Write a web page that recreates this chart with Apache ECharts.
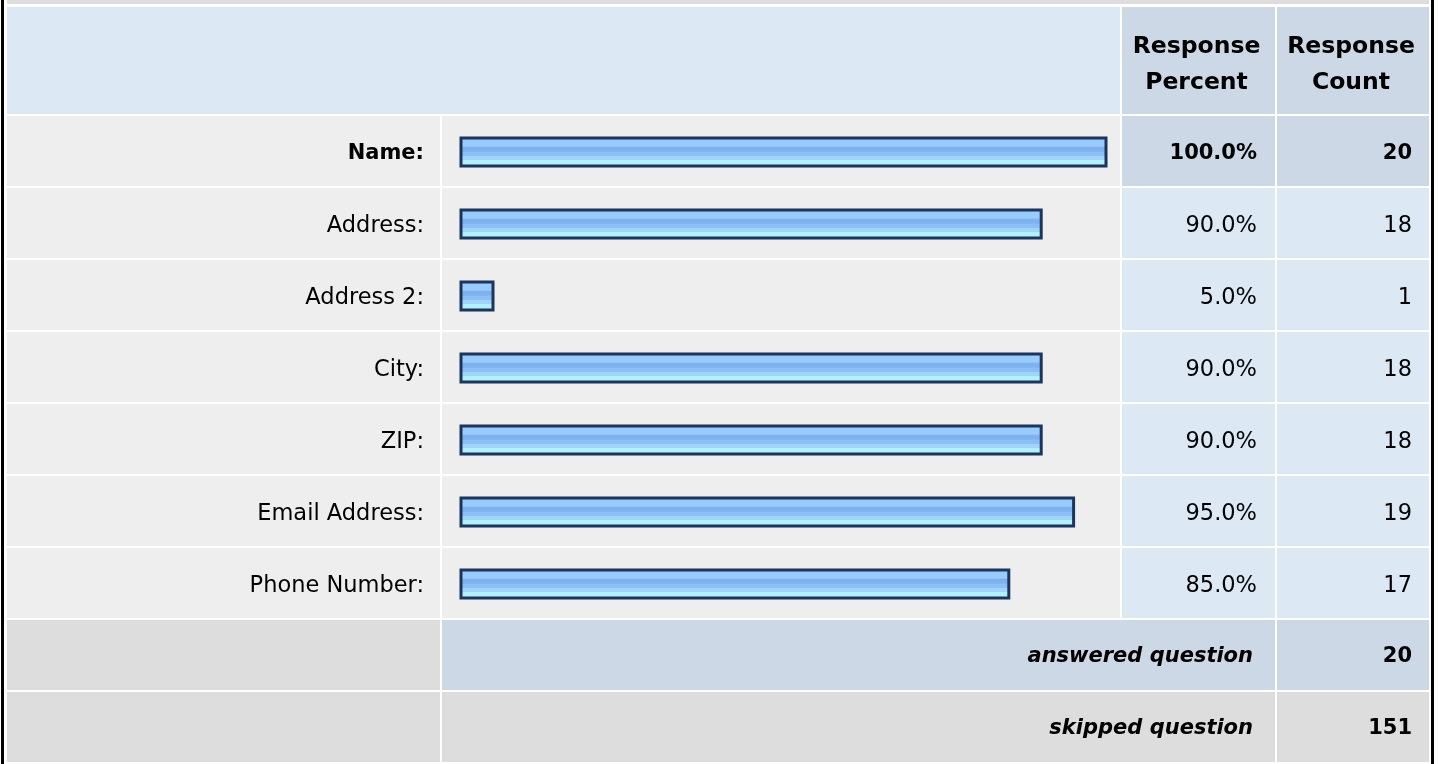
<!DOCTYPE html>
<html>
<head>
<meta charset="utf-8">
<script src="https://cdn.jsdelivr.net/npm/echarts@6/dist/echarts.min.js"></script>
<style>
  html, body { margin: 0; padding: 0; background: #ffffff; }
  #chart { width: 1438px; height: 764px; }
</style>
</head>
<body>
<div id="chart"></div>
<script>
// Survey answers: share and number of respondents per field
const categories = ['Name:', 'Address:', 'Address 2:', 'City:', 'ZIP:', 'Email Address:', 'Phone Number:'];
const responsePercent = [100.0, 90.0, 5.0, 90.0, 90.0, 95.0, 85.0];
const responseCount = [20, 18, 1, 18, 18, 19, 17];
const headerLabels = ['Response\nPercent', 'Response\nCount'];
const footerLabels = ['answered question', 'skipped question'];
const answeredCount = 20;
const skippedCount = 151;

// Table layout (pixels)
const W = 1438;
const COL = { label: [7, 440], bar: [442, 1120], pct: [1122, 1275], cnt: [1277, 1429] };
const HEADER = [7, 114];
const ROW_TOP = 116, ROW_PITCH = 72, ROW_H = 70;
const BAR_LEFT = 459.5, BAR_RIGHT = 1107.5;
const PCT_TEXT_RIGHT = 1257, CNT_TEXT_RIGHT = 1412, FOOT_TEXT_RIGHT = 1253, LABEL_RIGHT = 424;
const FONT = '"DejaVu Sans", "Liberation Sans", Arial, sans-serif';
const FS = 22.5, FS_BOLD = 21;
const TXT = '#000000';
const TEXT_SHIFT = 2;

const C_GRAY = '#eeeeee', C_DARKGRAY = '#dddddd', C_BLUE = '#dde8f5', C_DARKBLUE = '#ccd8e6';

const rect = (x0, x1, y, h, fill) => ({
  type: 'rect', silent: true, z: -10,
  shape: { x: x0, y: y, width: x1 - x0, height: h },
  style: { fill: fill }
});
const text = (str, x, y, align, size, style) => ({
  type: 'text', silent: true, z: 10,
  style: {
    text: str, x: x, y: y, align: align, verticalAlign: 'middle',
    fontFamily: FONT, fontSize: size, fontWeight: 'bold', fontStyle: style || 'normal',
    fill: TXT
  }
});

const elements = [];
// frame
elements.push(rect(7, 1429, 0, 4, C_DARKGRAY));
elements.push({ type: 'rect', silent: true, z: -5, shape: { x: 1, y: 0, width: 3, height: 764 }, style: { fill: '#000' } });
elements.push({ type: 'rect', silent: true, z: -5, shape: { x: 1431, y: 0, width: 3, height: 764 }, style: { fill: '#000' } });

// header row
const headH = HEADER[1] - HEADER[0];
elements.push(rect(COL.label[0], COL.bar[1], HEADER[0], headH, C_BLUE));
elements.push(rect(COL.pct[0], COL.pct[1], HEADER[0], headH, C_DARKBLUE));
elements.push(rect(COL.cnt[0], COL.cnt[1], HEADER[0], headH, C_DARKBLUE));
[COL.pct, COL.cnt].forEach((c, i) => {
  const t = text(headerLabels[i], (c[0] + c[1]) / 2 - 2, (HEADER[0] + HEADER[1]) / 2 + 4, 'center', 23.5);
  t.style.lineHeight = 36;
  elements.push(t);
});

// answer rows
categories.forEach((_, i) => {
  const y = ROW_TOP + i * ROW_PITCH;
  const cellColor = i === 0 ? C_DARKBLUE : C_BLUE;
  elements.push(rect(COL.label[0], COL.label[1], y, ROW_H, C_GRAY));
  elements.push(rect(COL.bar[0], COL.bar[1], y, ROW_H, C_GRAY));
  elements.push(rect(COL.pct[0], COL.pct[1], y, ROW_H, cellColor));
  elements.push(rect(COL.cnt[0], COL.cnt[1], y, ROW_H, cellColor));
});

// summary rows
const footTop = ROW_TOP + categories.length * ROW_PITCH;
[answeredCount, skippedCount].forEach((v, i) => {
  const y = footTop + i * ROW_PITCH;
  const fill = i === 0 ? C_DARKBLUE : C_DARKGRAY;
  elements.push(rect(COL.label[0], COL.label[1], y, ROW_H, C_DARKGRAY));
  elements.push(rect(COL.bar[0], COL.pct[1], y, ROW_H, fill));
  elements.push(rect(COL.cnt[0], COL.cnt[1], y, ROW_H, fill));
  elements.push(text(footerLabels[i], FOOT_TEXT_RIGHT, y + ROW_H / 2 + TEXT_SHIFT, 'right', 21, 'italic'));
  elements.push(text(String(v), CNT_TEXT_RIGHT, y + ROW_H / 2 + TEXT_SHIFT, 'right', FS_BOLD));
});

const pctText = responsePercent.map(v => v.toFixed(1) + '%');
const cntText = responseCount.map(v => String(v));

const labelStyle = (margin, align, labels) => ({
  interval: 0,
  margin: margin,
  align: align,
  padding: [TEXT_SHIFT * 2, 0, 0, 0],
  fontFamily: FONT,
  fontSize: FS,
  color: TXT,
  formatter: (v, i) => i === 0 ? '{b|' + labels[i] + '}' : labels[i],
  rich: { b: { fontWeight: 'bold', fontFamily: FONT, fontSize: FS_BOLD, color: TXT } }
});

const sideAxis = (labels, margin) => ({
  type: 'category',
  data: categories,
  inverse: true,
  position: 'right',
  axisLine: { show: false },
  axisTick: { show: false },
  splitLine: { show: false },
  axisLabel: labelStyle(margin, 'right', labels)
});

const chart = echarts.init(document.getElementById('chart'), null, { renderer: 'canvas' });
chart.setOption({
  animation: false,
  backgroundColor: '#ffffff',
  grid: {
    left: BAR_LEFT,
    right: W - BAR_RIGHT,
    top: ROW_TOP,
    height: categories.length * ROW_PITCH,
    containLabel: false
  },
  xAxis: { type: 'value', min: 0, max: 100, show: false },
  yAxis: [
    {
      type: 'category',
      data: categories,
      inverse: true,
      axisLine: { show: false },
      axisTick: { show: false },
      splitLine: { show: false },
      axisLabel: labelStyle(BAR_LEFT - LABEL_RIGHT, 'right', categories)
    },
    sideAxis(pctText, PCT_TEXT_RIGHT - BAR_RIGHT),
    sideAxis(cntText, CNT_TEXT_RIGHT - BAR_RIGHT)
  ],
  graphic: { elements: elements },
  series: [{
    type: 'bar',
    data: responsePercent,
    barWidth: 31,
    barMinHeight: 35,
    silent: true,
    itemStyle: {
      borderColor: '#1b355c',
      borderWidth: 3,
      color: {
        type: 'linear', x: 0, y: 0, x2: 0, y2: 1,
        colorStops: [
          { offset: 0.00, color: '#99ccff' },
          { offset: 0.32, color: '#99cbfc' },
          { offset: 0.33, color: '#7eb2ee' },
          { offset: 0.48, color: '#7eb2ee' },
          { offset: 0.49, color: '#8cbff5' },
          { offset: 0.62, color: '#8cbff5' },
          { offset: 0.63, color: '#a0d4fb' },
          { offset: 0.76, color: '#a0d4fb' },
          { offset: 0.77, color: '#b0f0ff' },
          { offset: 1.00, color: '#b0f0ff' }
        ]
      }
    }
  }]
});
</script>
</body>
</html>
